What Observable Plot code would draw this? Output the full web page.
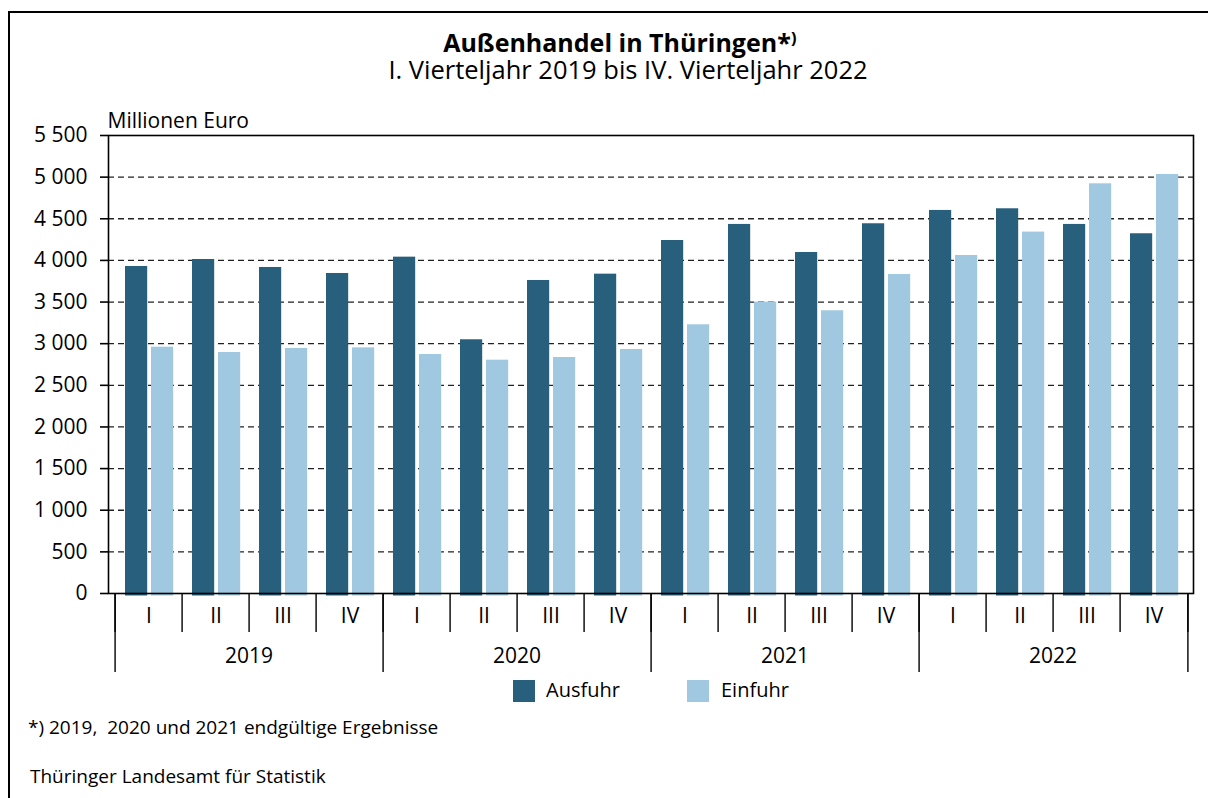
<!DOCTYPE html>
<html>
<head>
<meta charset="utf-8">
<script src="https://cdn.jsdelivr.net/npm/d3@7"></script>
<script src="https://cdn.jsdelivr.net/npm/@observablehq/plot@0.6"></script>
<style>
  html, body { margin: 0; padding: 0; background: #fff; }
  #wrap { position: relative; width: 1208px; height: 798px; overflow: hidden; font-family: "Open Sans", sans-serif; color: #000; background: #fff; }
  #border { position: absolute; left: 8px; top: 11px; width: 1240px; height: 840px; border: 2.5px solid #000; box-sizing: border-box; z-index: 2; pointer-events: none; }
  #chart { position: absolute; left: 0; top: 0; z-index: 1; }
  .t { position: absolute; white-space: nowrap; line-height: 0.75; z-index: 3; }
  .c { transform: translateX(-50%); }
  .sw { position: absolute; width: 22px; height: 22px; z-index: 3; }
</style>
</head>
<body>
<div id="wrap">
  <div id="border"></div>
  <div id="chart"></div>
  <div class="t c" style="left:620px; top:33px; font-size:25px; font-weight:700;">Außenhandel in Thüringen*⁾</div>
  <div class="t c" style="left:628px; top:60px; font-size:25.5px;">I. Vierteljahr 2019 bis IV. Vierteljahr 2022</div>
  <div class="sw" style="left:513px; top:680px; background:#285f7d;"></div>
  <div class="t" style="left:546px; top:682px; font-size:20px;">Ausfuhr</div>
  <div class="sw" style="left:687px; top:680px; background:#a0c9e1;"></div>
  <div class="t" style="left:721px; top:682px; font-size:20px;">Einfuhr</div>
  <div class="t" style="left:28px; top:720px; font-size:19px;">*) 2019,&nbsp; 2020 und 2021 endgültige Ergebnisse</div>
  <div class="t" style="left:30px; top:769px; font-size:19px;">Thüringer Landesamt für Statistik</div>
</div>
<script>
const years = ["2019", "2020", "2021", "2022"];
const quarters = ["I", "II", "III", "IV"];
const ausfuhr = [3927, 4011, 3915, 3843, 4039, 3047, 3759, 3835, 4239, 4432, 4095, 4440, 4600, 4620, 4432, 4320];
const einfuhr = [2958, 2894, 2942, 2950, 2870, 2802, 2834, 2930, 3227, 3499, 3395, 3831, 4059, 4340, 4920, 5032];
const yTicks = [0, 500, 1000, 1500, 2000, 2500, 3000, 3500, 4000, 4500, 5000, 5500];
const yLabel = "Millionen Euro";

const keys = years.flatMap(y => quarters.map(q => y + " " + q));
const rows = keys.map((k, i) => ({key: k, ausfuhr: ausfuhr[i], einfuhr: einfuhr[i]}));

const W = 1208, H = 680, mL = 108, mR = 15, mT = 135, mB = 87;
const bw = (W - mL - mR) / keys.length;
const fmt = d => String(d).replace(/\B(?=(\d{3})+(?!\d))/g, "\u00a0");
const FS = 21;

const plot = Plot.plot({
  width: W, height: H,
  marginLeft: mL, marginRight: mR, marginTop: mT, marginBottom: mB,
  style: {fontFamily: "'Open Sans', sans-serif", fontSize: FS + "px", color: "#000", background: "transparent", overflow: "visible"},
  x: {type: "band", domain: keys, padding: 0, axis: null},
  y: {domain: [0, 5500], axis: null},
  marks: [
    Plot.gridY(yTicks.filter(d => d > 0 && d < 5500), {stroke: "#222", strokeOpacity: 1, strokeWidth: 1.3, strokeDasharray: "6,4"}),
    Plot.barY(rows, {x: "key", y: "ausfuhr", fill: "#285f7d", insetLeft: 10, insetRight: bw - 33, insetBottom: -2.5}),
    Plot.barY(rows, {x: "key", y: "einfuhr", fill: "#a0c9e1", insetLeft: 36, insetRight: bw - 59, insetBottom: -2.5}),
    Plot.frame({stroke: "#000", strokeWidth: 1.6}),
    Plot.axisY({ticks: yTicks, tickSize: 8, tickPadding: 13, tickFormat: fmt, fontSize: FS, label: null, strokeWidth: 1.6}),
    Plot.text([yLabel], {frameAnchor: "top-left", textAnchor: "start", lineAnchor: "bottom", dy: -8, dx: -1, fontSize: FS}),
    // quarter separators
    Plot.axisX({ticks: keys, tickSize: 39, fill: "none", label: null, dx: -bw / 2, strokeWidth: 1.4}),
    Plot.axisX({ticks: [keys[keys.length - 1]], tickSize: 39, fill: "none", label: null, dx: bw / 2, strokeWidth: 1.4}),
    // year separators
    Plot.axisX({ticks: years.map(y => y + " I"), tickSize: 79, fill: "none", label: null, dx: -bw / 2, strokeWidth: 1.4}),
    Plot.axisX({ticks: [keys[keys.length - 1]], tickSize: 79, fill: "none", label: null, dx: bw / 2, strokeWidth: 1.4}),
    // quarter labels
    Plot.axisX({ticks: keys, tickSize: 0, tickPadding: 15, tickFormat: k => k.split(" ")[1], fontSize: FS, label: null}),
    // year labels
    Plot.axisX({ticks: years.map(y => y + " III"), tickSize: 0, tickPadding: 55, tickFormat: k => k.split(" ")[0], fontSize: FS, label: null, dx: -bw / 2})
  ]
});
document.getElementById("chart").appendChild(plot);
</script>
</body>
</html>
